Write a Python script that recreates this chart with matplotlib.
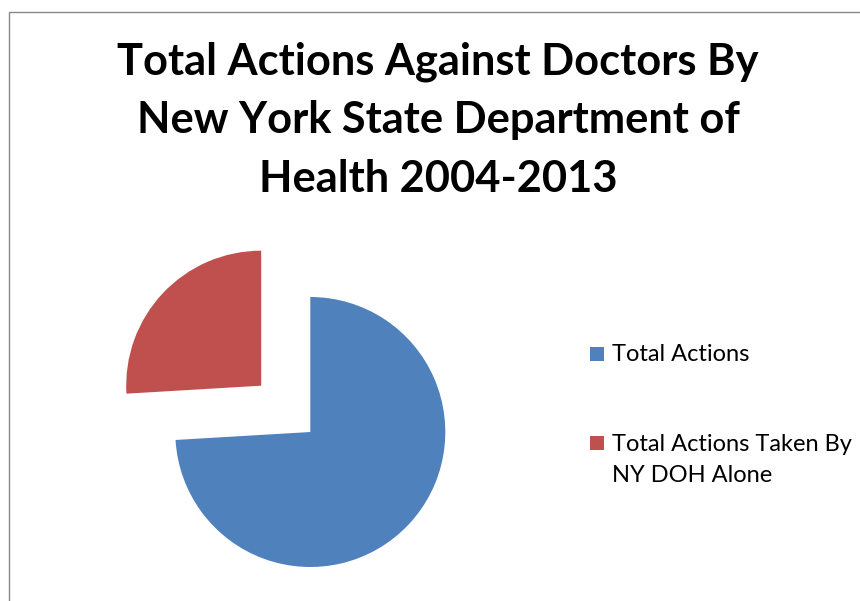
import matplotlib
matplotlib.use("Agg")
import matplotlib.pyplot as plt
from matplotlib.patches import Rectangle

# Data
labels = ["Total Actions", "Total Actions Taken By\nNY DOH Alone"]
values = [74.06, 25.94]
colors = ["#4F81BD", "#C0504D"]
explode = [0, 0.5]
title = "Total Actions Against Doctors By\nNew York State Department of\nHealth 2004-2013"

W, H = 860, 601
fig = plt.figure(figsize=(W / 100, H / 100), dpi=100)
fig.patch.set_facecolor("white")

# Pie axes: radius 1 data unit = 135 px, center at (310.3, 432) px from top-left
R = 135.0
cx, cy = 310.3, 432.0
ax = fig.add_axes([0, 0, 1, 1])
ax.pie(values, colors=colors, startangle=90, counterclock=False,
       explode=explode, radius=1, wedgeprops=dict(linewidth=0))
ax.set_xlim(-cx / R, (W - cx) / R)
ax.set_ylim(-(H - cy) / R, cy / R)
ax.set_aspect("auto")
ax.axis("off")

# Chart border (partly outside the image)
fig.patches.append(Rectangle((8.5 / W, -0.2), 1.5, 1.2 - 11.5 / H,
                             transform=fig.transFigure, fill=False,
                             edgecolor="#878787", linewidth=1.0))

# Title (last line baseline at 191.7 px from top)
fig.text(438 / W, 1 - 191.7 / H, title, ha="center", va="baseline",
         fontsize=31.2, fontweight="bold", family="Lato", linespacing=1.56)

# Legend (manual)
sq = 14
first_baselines = [360.7, 449.3]
line_step = 32.4
for lab, col, yb in zip(labels, colors, first_baselines):
    nlines = lab.count("\n") + 1
    fig.patches.append(Rectangle((589.5 / W, 1 - (yb + 0.5) / H), sq / W, sq / H,
                                 transform=fig.transFigure, facecolor=col,
                                 edgecolor="none"))
    fig.text(611.5 / W, 1 - (yb + (nlines - 1) * line_step) / H, lab,
             ha="left", va="baseline", fontsize=17, family="Lato",
             linespacing=1.56)

fig.savefig("out.png", dpi=100)
